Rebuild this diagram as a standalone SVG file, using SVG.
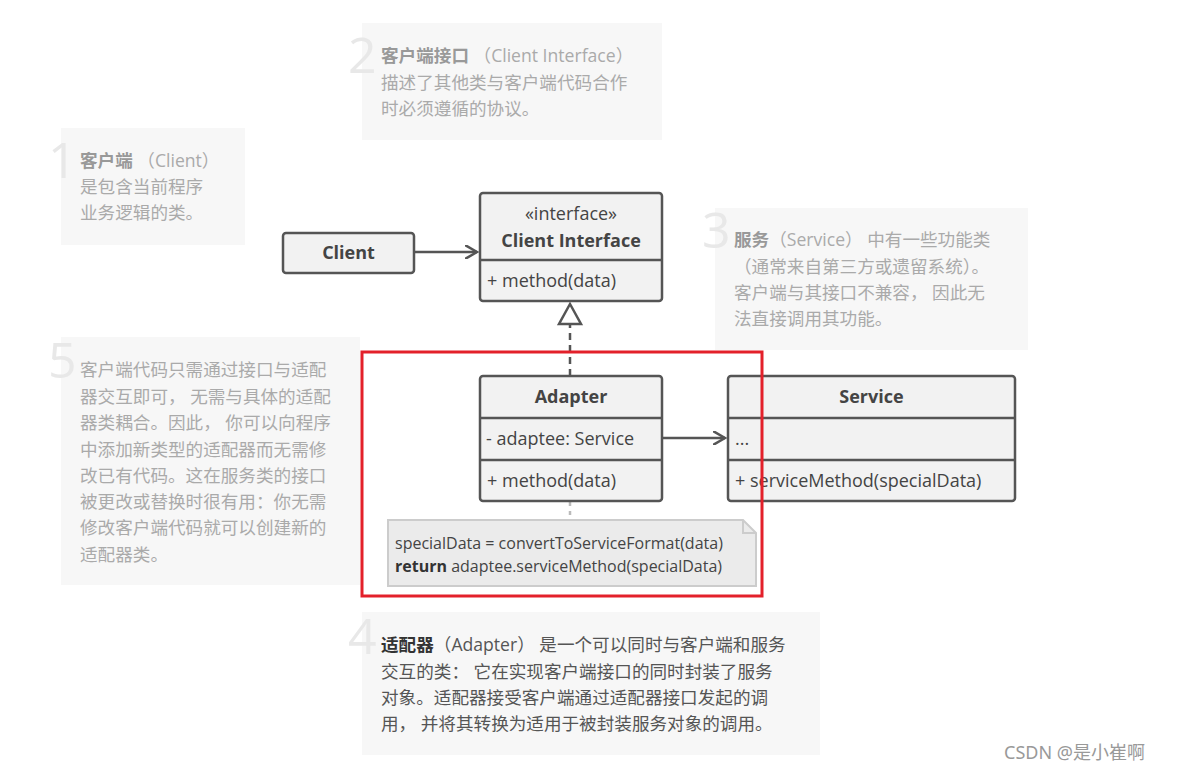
<svg xmlns="http://www.w3.org/2000/svg" width="1183" height="772" viewBox="0 0 1183 772">
<style>
.nb{fill:#f7f7f7}
.num{font-family:"Open Sans","Liberation Sans",sans-serif;font-size:50px;fill:#e8e8e8}
.nt{font-family:"Open Sans","Noto Sans CJK SC",sans-serif;font-size:17.6px;fill:#aaa}
.nt4{font-family:"Open Sans","Noto Sans CJK SC",sans-serif;font-size:17.6px;fill:#555}
.bx{fill:#f2f2f2;stroke:#555;stroke-width:2.5}
.t{font-family:"Open Sans","Liberation Sans",sans-serif;font-size:18px;fill:#444}
.b{font-weight:bold}
.ln{stroke:#555;stroke-width:2.5;fill:none}
</style>
<defs><marker id="oa" markerWidth="14" markerHeight="14" refX="12" refY="7" orient="auto" markerUnits="userSpaceOnUse"><path d="M0,0 L12,7 L0,14" fill="none" stroke="#555" stroke-width="2.5"/></marker></defs>
<rect width="1183" height="772" fill="#fff"/>
<g id="note2"><rect class="nb" x="362" y="23" width="300" height="117"/><text class="num" x="348" y="73">2</text>
<text class="nt" x="381" y="62"><tspan class="b" fill="#999">客户端接口</tspan> （Client Interface）</text>
<text class="nt" x="381" y="89">描述了其他类与客户端代码合作</text><text class="nt" x="381" y="115">时必须遵循的协议。</text></g>
<g id="note1"><rect class="nb" x="61" y="128" width="184" height="117"/><text class="num" x="48" y="178">1</text>
<text class="nt" x="80" y="167"><tspan class="b" fill="#999">客户端</tspan> （Client）</text>
<text class="nt" x="80" y="193">是包含当前程序</text><text class="nt" x="80" y="219">业务逻辑的类。</text></g>
<g id="note3"><rect class="nb" x="715" y="208" width="313" height="142"/><text class="num" x="702" y="248">3</text>
<text class="nt" x="734" y="246"><tspan class="b" fill="#999">服务</tspan>（Service） 中有一些功能类</text>
<text class="nt" x="734" y="273">（通常来自第三方或遗留系统）。</text>
<text class="nt" x="734" y="299">客户端与其接口不兼容， 因此无</text>
<text class="nt" x="734" y="325">法直接调用其功能。</text></g>
<g id="note5"><rect class="nb" x="61" y="337" width="299" height="248"/><text class="num" x="48" y="378">5</text>
<text class="nt" x="80" y="376">客户端代码只需通过接口与适配</text>
<text class="nt" x="80" y="403">器交互即可， 无需与具体的适配</text>
<text class="nt" x="80" y="429">器类耦合。因此， 你可以向程序</text>
<text class="nt" x="80" y="456">中添加新类型的适配器而无需修</text>
<text class="nt" x="80" y="482">改已有代码。这在服务类的接口</text>
<text class="nt" x="80" y="508">被更改或替换时很有用：你无需</text>
<text class="nt" x="80" y="534">修改客户端代码就可以创建新的</text>
<text class="nt" x="80" y="561">适配器类。</text></g>
<g id="note4"><rect class="nb" x="362" y="612" width="458" height="143"/><text class="num" x="348" y="654" fill="#ccc">4</text>
<text class="nt4" x="381" y="651"><tspan class="b" fill="#333">适配器</tspan>（Adapter） 是一个可以同时与客户端和服务</text>
<text class="nt4" x="381" y="678">交互的类： 它在实现客户端接口的同时封装了服务</text>
<text class="nt4" x="381" y="704">对象。适配器接受客户端通过适配器接口发起的调</text>
<text class="nt4" x="381" y="730">用， 并将其转换为适用于被封装服务对象的调用。</text></g>
<g id="connectors">
<line class="ln" x1="414" y1="252" x2="477" y2="252" marker-end="url(#oa)"/>
<line class="ln" x1="662" y1="438" x2="725" y2="438" marker-end="url(#oa)"/>
<line class="ln" x1="570" y1="376" x2="570" y2="325" stroke-dasharray="7,5"/>
<path d="M570,304 L581,324 L559,324 Z" fill="#fff" stroke="#555" stroke-width="2.5"/>
<line x1="570" y1="502" x2="570" y2="520" stroke="#bbb" stroke-width="2.5" stroke-dasharray="4,5"/>
</g>
<g id="client"><rect class="bx" x="283" y="233" width="131" height="40" rx="3"/><text class="t b" x="348.5" y="259" text-anchor="middle">Client</text></g>
<g id="clientInterface"><rect class="bx" x="480" y="193" width="182" height="108" rx="3"/><line class="ln" x1="480" y1="260" x2="662" y2="260"/>
<text class="t" x="571" y="220" text-anchor="middle">«interface»</text><text class="t b" x="571" y="247" text-anchor="middle">Client Interface</text>
<text class="t" x="487" y="287">+ method(data)</text></g>
<g id="adapter"><rect class="bx" x="480" y="376" width="182" height="125" rx="3"/><line class="ln" x1="480" y1="418" x2="662" y2="418"/><line class="ln" x1="480" y1="460" x2="662" y2="460"/>
<text class="t b" x="571" y="403" text-anchor="middle">Adapter</text><text class="t" x="486" y="445">- adaptee: Service</text><text class="t" x="487" y="487">+ method(data)</text></g>
<g id="service"><rect class="bx" x="728" y="376" width="287" height="125" rx="3"/><line class="ln" x1="728" y1="418" x2="1015" y2="418"/><line class="ln" x1="728" y1="460" x2="1015" y2="460"/>
<text class="t b" x="871.5" y="403" text-anchor="middle">Service</text><text class="t" x="735" y="445">...</text><text class="t" x="735" y="487">+ serviceMethod(specialData)</text></g>
<g id="codeNote"><path d="M388,520 H743 L756,533 V586 H388 Z" fill="#ebebeb" stroke="#ccc" stroke-width="2"/><path d="M743,520 V533 H756" fill="none" stroke="#ccc" stroke-width="2"/>
<text class="t" x="395" y="549" style="font-size:16px">specialData = convertToServiceFormat(data)</text>
<text class="t" x="395" y="572" style="font-size:16px"><tspan class="b" fill="#333">return</tspan> adaptee.serviceMethod(specialData)</text></g>
<rect x="362" y="352" width="400" height="244" fill="none" stroke="#e3202a" stroke-width="3"/>
<text x="1004" y="759" font-family="'Noto Sans','Noto Sans CJK SC',sans-serif" font-size="18" fill="#999">CSDN @是小崔啊</text>
</svg>
